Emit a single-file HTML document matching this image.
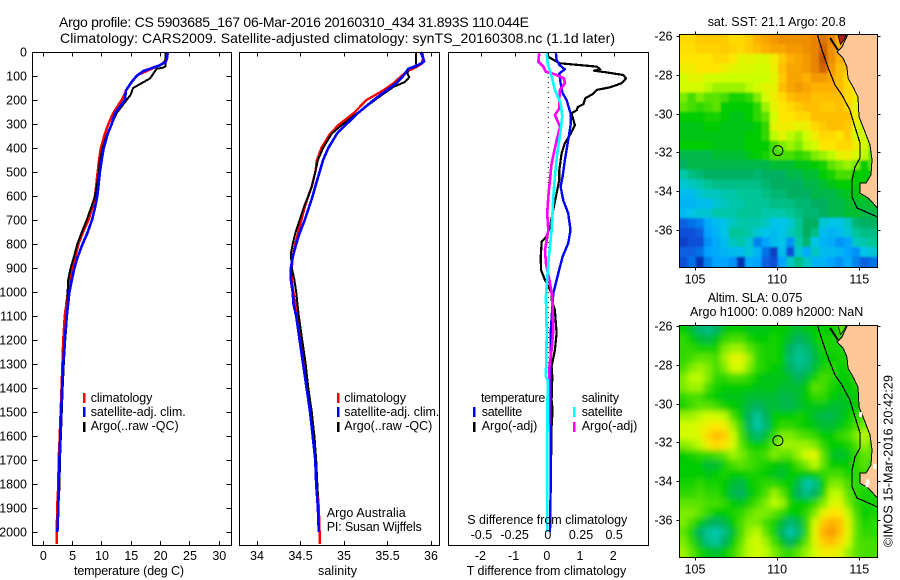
<!DOCTYPE html>
<html lang="en">
<head>
<meta charset="utf-8">
<title>Argo profile CS 5903685_167</title>
<style>
html,body{margin:0;padding:0;background:#fff;}
svg{display:block;}
text{font-family:"Liberation Sans",sans-serif;font-size:12.5px;fill:#000;}
.ttl{font-size:14px;}
</style>
</head>
<body>
<svg id="chart" xmlns="http://www.w3.org/2000/svg" width="900" height="580" viewBox="0 0 900 580">
<defs>
<clipPath id="clip-map1"><rect x="679.5" y="34.5" width="198" height="233"/></clipPath>
<clipPath id="clip-map2"><rect x="679.5" y="325.5" width="198" height="232"/></clipPath>
<filter id="blur-sst" x="-10%" y="-10%" width="120%" height="120%"><feGaussianBlur stdDeviation="1"/></filter>
<filter id="blur-sla" x="-10%" y="-10%" width="120%" height="120%"><feGaussianBlur stdDeviation="3"/></filter>
</defs>
<rect width="900" height="580" fill="#fff"/>

<text class="ttl" x="59" y="27" textLength="470">Argo profile: CS 5903685_167 06-Mar-2016 20160310_434 31.893S 110.044E</text>
<text class="ttl" x="60" y="43" textLength="555">Climatology: CARS2009. Satellite-adjusted climatology: synTS_20160308.nc (1.1d later)</text>

<g id="marks-temp"></g>
<g id="marks-sal"></g>
<g id="marks-diff"></g>
<g id="axes"></g>

<text x="74" y="575" textLength="110">temperature (deg C)</text>
<text x="318" y="575" textLength="39">salinity</text>
<text x="466.7" y="575" textLength="159.5">T difference from climatology</text>
<text x="467.3" y="524" textLength="160">S difference from climatology</text>

<g>
<rect x="83" y="393" width="2.5" height="10" fill="#f00"/>
<rect x="83" y="407" width="2.5" height="10" fill="#00f"/>
<rect x="83" y="422" width="2.5" height="10" fill="#000"/>
<text x="90.7" y="402" textLength="61.7">climatology</text>
<text x="90.7" y="416" textLength="95">satellite-adj. clim.</text>
<text x="90.7" y="430" textLength="88">Argo(..raw -QC)</text>
</g>
<g>
<rect x="337" y="393" width="2.5" height="10" fill="#f00"/>
<rect x="337" y="407" width="2.5" height="10" fill="#00f"/>
<rect x="337" y="422" width="2.5" height="10" fill="#000"/>
<text x="344.3" y="402" textLength="61.7">climatology</text>
<text x="344.3" y="416" textLength="95">satellite-adj. clim.</text>
<text x="344.3" y="430" textLength="88">Argo(..raw -QC)</text>
</g>
<text x="326.7" y="517" textLength="79">Argo Australia</text>
<text x="326.7" y="531" textLength="95">PI: Susan Wijffels</text>

<g>
<rect x="473" y="407" width="2.5" height="10" fill="#00f"/>
<rect x="473" y="422" width="2.5" height="10" fill="#000"/>
<rect x="573" y="407" width="2.5" height="10" fill="#0ff"/>
<rect x="573" y="422" width="2.5" height="10" fill="#f0f"/>
<text x="481" y="402" textLength="64.3">temperature</text>
<text x="481.7" y="416" textLength="40.5">satellite</text>
<text x="481.7" y="430" textLength="55.6">Argo(-adj)</text>
<text x="581.7" y="402" textLength="37.3">salinity</text>
<text x="581.7" y="416" textLength="41">satellite</text>
<text x="581.7" y="430" textLength="55.6">Argo(-adj)</text>
</g>

<text x="707.7" y="26" textLength="138">sat. SST: 21.1 Argo: 20.8</text>
<text x="707.7" y="302" textLength="94.6">Altim. SLA: 0.075</text>
<text x="690" y="316" textLength="173.3">Argo h1000: 0.089 h2000: NaN</text>

<g id="map1"></g>
<g id="map2"></g>

<text transform="translate(892.5 547) rotate(-90)" textLength="172">©IMOS 15-Mar-2016 20:42:29</text>
</svg>

<script>
// ---------- depth axis & tick labels ----------
const depthTicks = [0,100,200,300,400,500,600,700,800,900,1000,1100,1200,1300,1400,1500,1600,1700,1800,1900,2000];
const tempTicks = [0,5,10,15,20,25,30];
const salTicks = [34,34.5,35,35.5,36];
const tDiffTicks = [-2,-1,0,1,2];
const sDiffTicks = [-0.5,-0.25,0,0.25,0.5];
const sDiffTickLabels = ['-0.5','-0.25','0','0.25','0.5'];
const lonTicks = [105,110,115];
const latTicks = [-26,-28,-30,-32,-34,-36];

// ---------- temperature profiles ----------
const tempClimDepth = [0,25,40,50,67,95,116,157,200,255,300,340,400,450,500,560,600,645,700,755,800,855,900,950,1000,1100,1200,1300,1400,1500,1600,1700,1800,1900,2000,2050];
const tempClimValue = [21.0,20.9,20.7,20.2,18.75,16.2,15.3,14.2,13.35,11.9,11.1,10.5,9.8,9.5,9.25,9.0,8.8,8.4,7.7,6.7,6.0,5.45,4.95,4.55,4.2,3.65,3.4,3.25,3.1,2.95,2.8,2.6,2.55,2.35,2.3,2.3];
const tempSatDepth = [0,25,40,55,67,80,100,130,160,200,255,300,340,400,450,500,560,600,645,700,755,800,855,900,950,1000,1100,1200,1300,1400,1500,1600,1700,1800,1900,2000];
const tempSatValue = [21.2,21.1,20.9,19.9,18.5,17,15.9,14.9,14.1,13.9,12.2,11.65,11,10.3,9.95,9.65,9.4,9.2,8.85,8.3,7.5,6.7,5.85,5.3,4.85,4.45,4.0,3.65,3.4,3.2,3.05,2.9,2.75,2.65,2.55,2.4];
const tempArgoDepth = [0,40,60,65,70,85,110,130,150,178,200,255,300,340,400,450,500,560,600,645,700,755,800,855,900,950,1000,1100,1200,1300,1400,1500,1600,1700,1830];
const tempArgoValue = [20.8,20.8,20.85,20.45,19.3,18.9,18.2,16.75,15.3,14.9,14.2,12.5,11.65,10.9,10.1,9.65,9.5,9.1,8.8,8.2,7.4,6.5,5.8,5.2,4.65,4.25,4.15,4.05,3.75,3.5,3.3,3.15,3.0,2.85,2.75];

// ---------- salinity profiles ----------
const salClimDepth = [0,25,50,65,80,100,130,160,200,255,300,340,400,450,500,560,600,645,700,755,800,855,900,950,1000,1100,1200,1300,1400,1500,1600,1700,1800,1900,2000,2050];
const salClimValue = [35.9,35.91,35.89,35.82,35.73,35.66,35.57,35.45,35.26,35.11,34.95,34.84,34.74,34.69,34.67,34.63,34.59,34.55,34.51,34.47,34.44,34.41,34.40,34.40,34.42,34.46,34.5,34.54,34.58,34.62,34.65,34.67,34.69,34.71,34.72,34.72];
const salSatDepth = [0,25,40,55,70,100,130,160,200,255,300,340,400,450,500,560,600,645,700,755,800,855,900,950,1000,1050,1100,1200,1300,1400,1500,1600,1700,1800,1900,2000];
const salSatValue = [35.88,35.91,35.92,35.85,35.74,35.68,35.6,35.49,35.34,35.16,35.03,34.92,34.82,34.76,34.72,34.67,34.64,34.6,34.55,34.49,34.45,34.41,34.39,34.39,34.41,34.42,34.45,34.49,34.53,34.57,34.61,34.64,34.67,34.68,34.7,34.71];
const salArgoDepth = [0,50,60,70,90,105,125,145,175,215,255,300,340,400,450,500,560,600,645,700,755,800,840,900,950,1000,1100,1200,1300,1400,1500,1600,1700,1850];
const salArgoValue = [35.83,35.83,35.84,35.74,35.73,35.75,35.7,35.57,35.45,35.3,35.15,34.99,34.86,34.76,34.7,34.67,34.63,34.59,34.54,34.49,34.44,34.41,34.39,34.40,34.43,34.45,34.48,34.52,34.56,34.59,34.63,34.66,34.68,34.7];

// ---------- differences from climatology ----------
const dTempArgoDepth = [20,40,47,61,72,78,85,96,110,130,147,158,175,193,217,230,242,255,280,304,346,380,422,492,533,589,658,728,769,790,853,908,950,1005,1033,1075,1172,1242,1311,1353,1450,1492,1561,1830];
const dTempArgoValue = [0,0.25,0.35,1.46,1.56,1.38,1.76,2.26,2.34,2.21,1.86,1.46,1.34,1.11,1.06,0.88,0.86,0.7,0.75,0.8,0.65,0.5,0.4,0.33,0.33,0.25,0.15,0.05,-0.05,-0.2,-0.23,-0.22,-0.1,0.1,0.1,0.2,0.25,0.2,0.1,0.12,0.1,0.13,0.1,0.07];
const dTempSatDepth = [5,33,54,72,89,130,172,200,255,297,367,450,519,561,617,672,742,797,853,922,1005,1172,1825,2000];
const dTempSatValue = [0.23,0.25,0.33,0.5,0.33,0.37,0.43,0.55,0.67,0.68,0.6,0.5,0.43,0.37,0.45,0.6,0.67,0.6,0.43,0.3,0.15,0.07,0.07,0.05];
const dSalSatDepth = [5,47,103,158,214,269,325,422,519,603,742,880,1019,1172,1353,1367,2000];
const dSalSatValue = [-0.012,-0.005,0.025,0.05,0.093,0.105,0.093,0.068,0.05,0.038,0.025,0,-0.018,-0.012,-0.018,-0.005,-0.008];
const dSalArgoDepth = [5,40,61,82,93,110,130,158,193,235,262,311,367,464,603,672,742,825,880,950,1019,1158,1242,1311,1555];
const dSalArgoValue = [-0.068,-0.075,-0.038,-0.018,0.05,0.118,0.125,0.088,0.083,0.083,0.05,0.088,0.063,0.025,0,-0.008,0,-0.025,-0.018,0.008,0.03,0.038,0.025,0.008,0.008];

// ---------- SST map: colour level per 0.5 degree cell, north to south, west to east ----------
const sstGrid = [
[74,74,76,76,76,76,74,74,76,80,82,84,86,86,86,86,88,90,88,80,80,80,72,72],
[73,73,75,75,75,76,75,74,76,78,80,82,82,84,84,86,88,92,86,80,80,80,80,80],
[72,72,72,72,74,74,72,68,68,67,67,70,76,80,82,84,88,94,86,80,80,80,80,80],
[70,70,72,72,72,70,68,67,67,66,66,69,78,82,82,84,88,92,84,78,78,78,78,78],
[66,68,68,66,66,65,65,65,65,65,65,68,76,82,82,80,84,84,82,78,74,74,74,74],
[66,66,66,64,62,62,62,62,64,66,68,68,78,82,84,82,80,80,80,78,74,72,72,72],
[60,56,60,58,58,56,52,52,54,60,66,70,74,78,80,80,78,78,78,78,74,70,70,70],
[58,56,54,56,58,50,50,50,50,54,62,68,72,74,76,78,78,76,76,78,74,68,68,68],
[50,50,50,52,52,50,48,48,50,54,58,66,72,72,74,74,78,78,78,78,78,70,62,62],
[48,48,48,50,50,48,48,48,48,50,54,68,70,70,68,70,74,76,78,78,76,68,64,64],
[48,48,48,48,48,48,48,48,50,50,54,64,68,64,62,66,70,74,74,72,76,66,66,58],
[50,50,50,50,48,48,48,48,50,50,50,56,60,62,60,64,66,72,72,74,74,70,66,60],
[44,44,44,44,46,46,46,46,48,50,52,56,56,56,54,56,60,62,64,68,70,66,64,58],
[42,44,44,44,44,44,44,44,44,44,44,46,46,46,48,48,50,52,58,60,62,60,50,58],
[34,38,40,42,42,42,42,42,42,40,42,42,42,44,44,46,46,50,52,56,56,50,50,50],
[30,32,34,36,38,38,38,38,38,38,40,42,42,42,42,44,44,46,48,50,50,50,50,50],
[26,26,30,32,32,34,34,36,36,36,38,40,40,42,42,42,44,44,44,46,48,48,50,50],
[24,24,26,26,30,32,34,34,36,36,36,38,38,38,40,40,42,42,44,44,46,46,46,46],
[26,28,30,30,34,34,34,36,36,36,34,34,34,36,38,40,40,42,44,44,46,46,44,44],
[12,14,16,22,26,28,32,34,34,34,32,28,28,30,36,42,42,30,28,28,32,40,42,42],
[10,10,12,20,24,28,36,36,34,30,28,26,28,32,36,42,38,26,24,26,30,36,38,38],
[8,10,10,18,22,26,32,34,30,16,20,26,28,18,34,40,28,24,22,18,20,32,34,36],
[12,12,14,20,22,24,26,26,30,24,14,8,26,10,30,22,32,26,26,24,20,18,28,30],
[10,14,6,16,20,20,18,6,22,20,12,10,20,32,38,32,24,24,20,18,22,16,12,14]
];

// ---------- SLA map: colour level per 0.5 degree cell ----------
const slaGrid = [
[50,46,40,38,42,48,50,50,48,48,48,50,50,48,46,48,50,50,50,54,54,54,54,54],
[54,50,46,44,48,54,56,56,52,50,50,52,50,46,42,44,50,52,52,54,54,54,54,54],
[54,54,52,52,52,60,62,62,58,54,52,52,50,42,38,40,46,52,52,52,54,54,54,54],
[54,56,58,58,56,62,68,68,62,54,52,52,50,40,36,38,44,50,50,52,52,54,54,54],
[56,60,62,60,56,60,66,66,60,54,52,50,48,42,38,40,46,52,54,50,52,54,54,54],
[60,64,64,60,54,54,56,56,54,50,48,48,48,46,42,46,52,56,54,50,50,54,54,54],
[60,62,62,56,52,50,50,50,50,48,48,48,46,46,46,50,58,56,52,50,50,52,54,54],
[54,56,56,52,50,48,48,48,46,46,46,46,44,44,46,50,54,54,50,48,48,50,54,54],
[52,56,58,58,56,52,50,48,44,42,44,46,44,44,46,48,48,48,46,46,48,50,54,54],
[62,62,64,66,66,64,56,50,42,36,42,50,50,50,52,50,46,44,44,46,50,54,56,56],
[66,66,68,70,72,70,62,54,42,34,40,50,54,54,52,50,48,46,46,48,52,56,60,60],
[66,66,68,74,78,76,66,56,46,40,46,54,60,60,58,56,54,50,50,54,56,60,64,62],
[60,62,64,70,74,72,66,58,52,50,52,58,62,62,62,62,60,54,50,50,52,56,62,56],
[50,52,54,54,56,58,62,60,56,54,56,60,58,58,62,66,68,58,48,46,48,54,58,58],
[50,50,50,46,46,52,56,58,56,54,52,50,48,50,56,60,64,58,50,50,50,54,58,54],
[50,50,50,48,50,52,50,50,52,52,50,48,46,50,50,48,50,54,56,56,52,54,54,54],
[52,52,54,52,52,50,46,44,50,52,54,54,52,50,44,34,38,50,60,60,56,54,54,54],
[54,54,56,54,54,50,44,42,48,52,56,62,58,50,42,38,42,52,64,64,58,54,52,52],
[58,58,58,56,56,54,50,48,52,56,60,64,62,52,50,50,54,60,66,68,60,54,52,52],
[60,60,58,54,50,50,52,54,58,60,60,58,54,50,50,54,60,68,72,72,64,56,50,52],
[60,56,50,44,42,44,50,56,60,60,56,52,46,40,44,54,66,76,80,78,68,58,52,54],
[58,52,42,36,34,38,46,56,62,64,58,52,42,34,40,54,68,80,84,78,68,58,54,54],
[60,54,46,38,36,42,50,58,64,66,62,56,48,42,48,58,68,76,78,74,66,58,56,56],
[62,58,52,48,46,50,54,60,64,66,64,60,56,54,58,62,66,70,70,68,62,58,56,56]
];

// ---------- geography ----------
const landLon = [114.31,113.95,113.64,114.01,114.25,114.31,114.62,114.92,114.98,115.23,115.65,115.77,115.71,115.41,115.04,115.04,115.53,116.11,116.11];
const landLat = [-25.86,-26.53,-26.79,-27.10,-27.57,-28.14,-28.60,-29.12,-30.15,-30.67,-31.60,-32.38,-33.15,-33.57,-33.57,-34.09,-34.34,-34.86,-25.86];
const isobathLon = [112.43,112.73,113.09,113.52,113.95,114.43,114.74,115.04,115.04,114.74,114.56,114.56,114.86,116.11];
const isobathLat = [-25.86,-26.69,-27.57,-28.50,-29.02,-29.79,-30.67,-31.50,-32.27,-32.74,-33.41,-34.29,-34.86,-35.33];
const bayLon = [113.70,114.20,114.05,113.85];
const bayLat = [-25.91,-25.91,-26.2,-26.4];
const islandLon = [113.22,113.70];
const islandLat = [-26.07,-26.69];
const slaNanLon = [114.98,115.43,115.38,115.85];
const slaNanLat = [-30.42,-33.9,-34.05,-33.1];
const floatLon = 110.044;
const floatLat = -31.893;

// ---------- scales ----------
const SVGNS = 'http://www.w3.org/2000/svg';
const depthY = d => 52 + d * 0.24;
const tempX = v => 43.3 + v * 5.867;
const salX = v => 257 + (v - 34) * 87;
const tDiffX = v => 548.3 + v * 33.2;
const sDiffX = v => 548.3 + v * 132.8;
const lonX = v => 695 + (v - 105) * 16.43;
const latY = (v, off) => 36.7 + off + (-26 - v) * 19.33;

function make(parent, tag, attrs, txt) {
  const e = document.createElementNS(SVGNS, tag);
  for (const k in attrs) e.setAttribute(k, attrs[k]);
  if (txt !== undefined) e.textContent = txt;
  parent.appendChild(e);
  return e;
}

function profile(parent, depth, vals, xf, color, width, name) {
  const pts = depth.map((d, i) => xf(vals[i]).toFixed(1) + ',' + depthY(d).toFixed(1)).join(' ');
  const p = make(parent, 'polyline', {points: pts, fill: 'none', stroke: color, 'stroke-width': width, 'shape-rendering': 'crispEdges', 'stroke-linejoin': 'round'});
  
  
}

const gT = document.getElementById('marks-temp');
profile(gT, tempClimDepth, tempClimValue, tempX, '#f00', 2.4, 'temperature-climatology-line');
profile(gT, tempArgoDepth, tempArgoValue, tempX, '#000', 2, 'temperature-argo-line');
profile(gT, tempSatDepth, tempSatValue, tempX, '#00f', 2.6, 'temperature-satellite-line');

const gS = document.getElementById('marks-sal');
profile(gS, salClimDepth, salClimValue, salX, '#f00', 2.4, 'salinity-climatology-line');
profile(gS, salArgoDepth, salArgoValue, salX, '#000', 2, 'salinity-argo-line');
profile(gS, salSatDepth, salSatValue, salX, '#00f', 2.6, 'salinity-satellite-line');

const gD = document.getElementById('marks-diff');
const zeroLine = make(gD, 'line', {x1: tDiffX(0), x2: tDiffX(0), y1: 52, y2: 400, stroke: '#000', 'stroke-width': 1, 'stroke-dasharray': '1 4'});


profile(gD, dTempArgoDepth, dTempArgoValue, tDiffX, '#000', 2.2, 'temperature-diff-argo-line');
profile(gD, dTempSatDepth, dTempSatValue, tDiffX, '#00f', 2.4, 'temperature-diff-satellite-line');
profile(gD, dSalArgoDepth, dSalArgoValue, sDiffX, '#f0f', 2.6, 'salinity-diff-argo-line');
profile(gD, dSalSatDepth, dSalSatValue, sDiffX, '#0ff', 2.6, 'salinity-diff-satellite-line');

// ---------- frames, ticks, tick labels ----------
const ax = document.getElementById('axes');
function frame(parent, x, y, w, h, name) {
  const r = make(parent, 'rect', {x: x, y: y, width: w, height: h, fill: 'none', stroke: '#000', 'stroke-width': 1, 'shape-rendering': 'crispEdges'});
  
  
}
function tick(parent, x1, y1, x2, y2) {
  const t = make(parent, 'line', {x1: x1, y1: y1, x2: x2, y2: y2, stroke: '#000', 'stroke-width': 1, 'shape-rendering': 'crispEdges'});
  
  
}
function label(parent, x, y, anchor, str, name) {
  const t = make(parent, 'text', {x: x, y: y, 'text-anchor': anchor}, str);
  
  
}

frame(ax, 32.5, 52.5, 199, 493, 'temperature-panel-frame');
frame(ax, 239.5, 52.5, 200, 493, 'salinity-panel-frame');
frame(ax, 448.5, 52.5, 200, 493, 'difference-panel-frame');

depthTicks.forEach(d => {
  const y = Math.floor(depthY(d)) + 0.5;
  tick(ax, 32.5, y, 37.5, y);
  tick(ax, 226.5, y, 231.5, y);
  label(ax, 27, y + 4, 'end', String(d), 'depth-tick-label');
});
tempTicks.forEach(v => {
  const x = Math.floor(tempX(v)) + 0.5;
  tick(ax, x, 52.5, x, 56.5);
  tick(ax, x, 541, x, 545.5);
  label(ax, tempX(v), 560, 'middle', String(v), 'temperature-tick-label');
});
salTicks.forEach(v => {
  const x = Math.floor(salX(v)) + 0.5;
  tick(ax, x, 52.5, x, 56.5);
  tick(ax, x, 541, x, 545.5);
  label(ax, salX(v), 560, 'middle', String(v), 'salinity-tick-label');
});
tDiffTicks.forEach(v => {
  const x = Math.floor(tDiffX(v)) + 0.5;
  tick(ax, x, 52.5, x, 56.5);
  label(ax, tDiffX(v) - 1.5, 560, 'middle', String(v), 't-difference-tick-label');
});
sDiffTicks.forEach((v, i) => {
  label(ax, sDiffX(v) - 0.5, 539, 'middle', sDiffTickLabels[i], 's-difference-tick-label');
});

// ---------- maps ----------
const colorLevels = [0,10,20,28,35,42,50,58,65,72,80,88,94,100];
const colorValues = ['#000080','#0a50d8','#00a4ff','#00c4e8','#00c8a0','#00b060','#00cc00','#5ce400','#ccff00','#ffe600','#ffb000','#e88400','#c45400','#a02020'];
function hexRgb(h) { return [1,3,5].map(i => parseInt(h.substr(i, 2), 16)); }
function levelColor(v) {
  let i = 0;
  while (i < colorLevels.length - 2 && v > colorLevels[i + 1]) i++;
  const f = Math.max(0, Math.min(1, (v - colorLevels[i]) / (colorLevels[i + 1] - colorLevels[i])));
  const a = hexRgb(colorValues[i]), b = hexRgb(colorValues[i + 1]);
  return 'rgb(' + a.map((c, k) => Math.round(c + (b[k] - c) * f)).join(',') + ')';
}
function pathPts(lons, lats, off) {
  return lons.map((v, i) => lonX(v).toFixed(1) + ',' + latY(lats[i], off).toFixed(1)).join(' ');
}

function drawMap(root, grid, off, clipId, filterId, bayColor, top, height, prefix) {
  const clip = make(root, 'g', {'clip-path': 'url(#' + clipId + ')'});
  
  
  const cells = make(clip, 'g', {filter: 'url(#' + filterId + ')'});
  
  
  grid.forEach((row, r) => {
    row.forEach((v, c) => {
      const x0 = lonX(104.05 + 0.5 * c), x1 = lonX(104.05 + 0.5 * (c + 1));
      const y0 = latY(-25.88 - 0.5 * r, off), y1 = latY(-25.88 - 0.5 * (r + 1), off);
      const px = c === 0 ? x0 - 14 : x0;
      const pw = (c === row.length - 1 ? x1 + 14 : x1) - px;
      const py = r === 0 ? y0 - 14 : y0;
      const ph = (r === grid.length - 1 ? y1 + 14 : y1) - py;
      const cell = make(cells, 'rect', {x: px.toFixed(1), y: py.toFixed(1), width: (pw + 0.4).toFixed(1), height: (ph + 0.4).toFixed(1), fill: levelColor(v)});
      
      
    });
  });
  const land = make(clip, 'polygon', {points: pathPts(landLon, landLat, off), fill: '#fdc896', stroke: '#000', 'stroke-width': 1, 'shape-rendering': 'crispEdges'});
  
  
  const bay = make(clip, 'polygon', {points: pathPts(bayLon, bayLat, off), fill: bayColor, stroke: '#000', 'stroke-width': 0.8});
  
  
  const island = make(clip, 'polyline', {points: pathPts(islandLon, islandLat, off), fill: 'none', stroke: '#000', 'stroke-width': 2});
  
  
  const iso = make(clip, 'polyline', {points: pathPts(isobathLon, isobathLat, off), fill: 'none', stroke: '#000', 'stroke-width': 1.2, 'shape-rendering': 'crispEdges'});
  
  
  const mark = make(root, 'circle', {cx: lonX(floatLon).toFixed(1), cy: latY(floatLat, off).toFixed(1), r: 5, fill: 'none', stroke: '#000', 'stroke-width': 1});
  
  
  frame(root, 679.5, top, 198, height, prefix + '-frame');
  lonTicks.forEach(v => {
    const x = Math.floor(lonX(v)) + 0.5;
    tick(root, x, top - 3, x, top);
    tick(root, x, top + height, x, top + height + 3);
    label(root, lonX(v), top + height + 16, 'middle', String(v), prefix + '-lon-label');
  });
  latTicks.forEach(v => {
    const y = Math.floor(latY(v, off)) + 0.5;
    tick(root, 676.5, y, 679.5, y);
    tick(root, 877.5, y, 880.5, y);
    label(root, 672.5, y + 4, 'end', '-' + Math.abs(v), prefix + '-lat-label');
  });
}

drawMap(document.getElementById('map1'), sstGrid, 0, 'clip-map1', 'blur-sst', '#a82020', 34.5, 233, 'sst-map');
drawMap(document.getElementById('map2'), slaGrid, 290, 'clip-map2', 'blur-sla', '#50e000', 325.5, 232, 'sla-map');

const map2 = document.getElementById('map2');
slaNanLon.forEach((v, i) => {
  const n = make(map2, 'rect', {x: lonX(v).toFixed(1), y: latY(slaNanLat[i], 290).toFixed(1), width: 3, height: 5, fill: '#fff'});
  
  
});
</script>
</body>
</html>
